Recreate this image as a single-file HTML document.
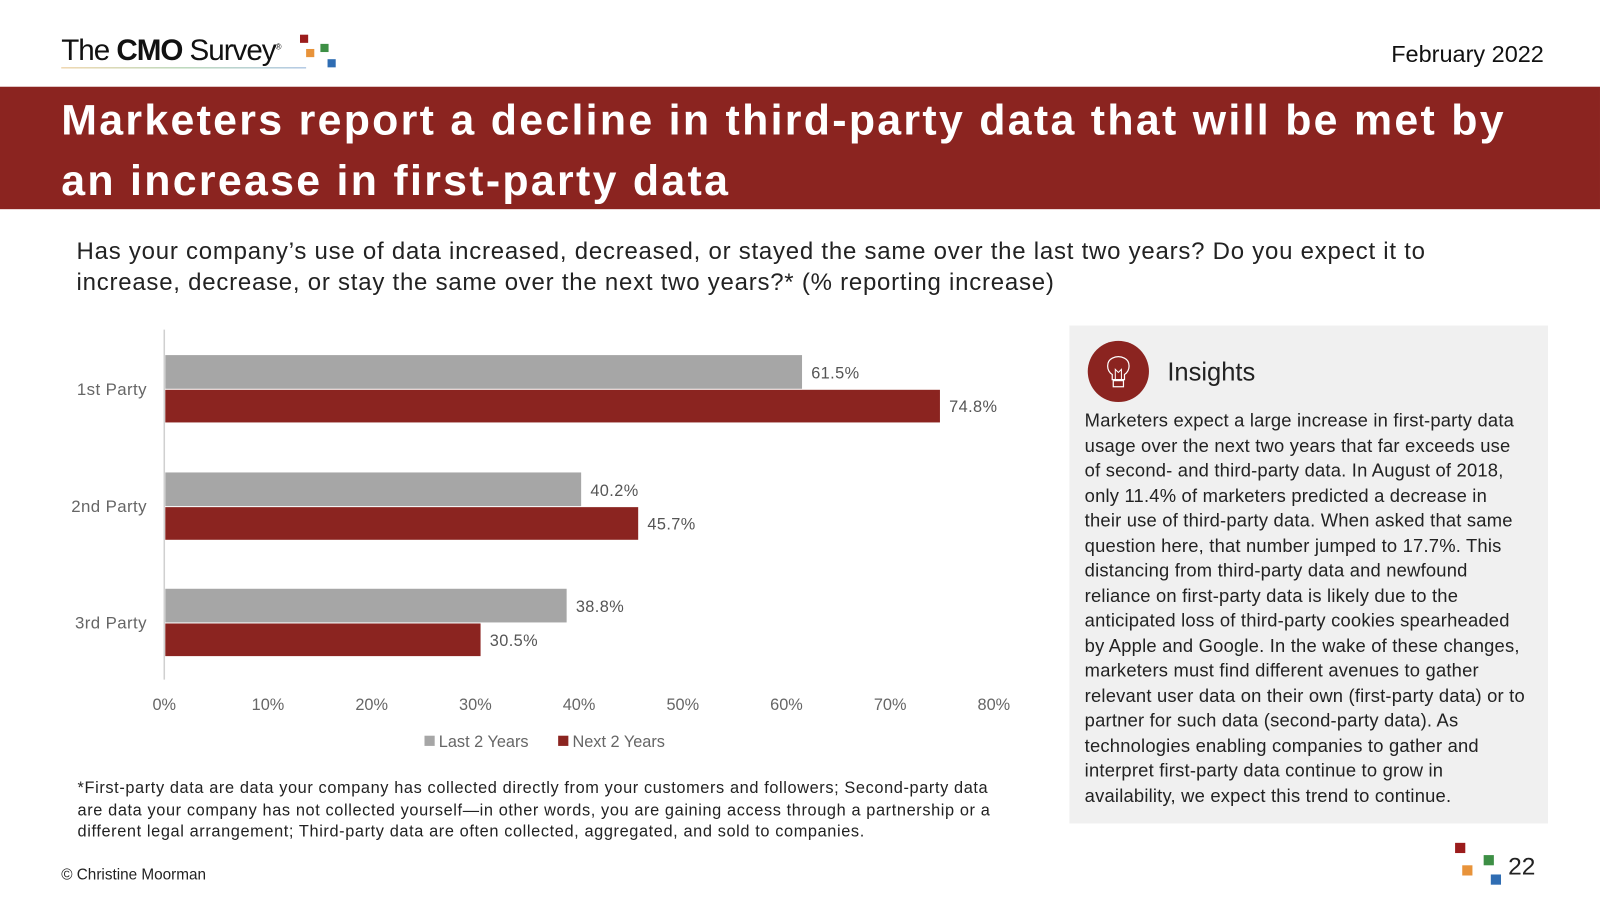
<!DOCTYPE html>
<html><head><meta charset="utf-8">
<style>
*{margin:0;padding:0;box-sizing:border-box}
body{width:1600px;height:900px;background:#fff;font-family:"Liberation Sans",Arial,sans-serif;overflow:hidden;color:#222}
#wrap{position:absolute;left:0;top:0;width:1568px;height:882px;transform:scale(1.0204);transform-origin:0 0}
.abs{position:absolute}
.nw{white-space:nowrap}
</style></head><body><div id="wrap">
<div class="abs" style="left:60px;top:34px;font-size:29px;letter-spacing:-1px;color:#111;white-space:nowrap">The <b>CMO</b> Survey<sup style="font-size:8px">®</sup></div>
<div class="abs" style="left:292px;top:34px;width:40px;height:36px">
<div class="abs" style="left:2px;top:0;width:8px;height:8px;background:#9b1c1c"></div>
<div class="abs" style="left:8px;top:14px;width:8px;height:8px;background:#e8933a"></div>
<div class="abs" style="left:22px;top:9px;width:8px;height:8px;background:#3d8f45"></div>
<div class="abs" style="left:29px;top:24px;width:8px;height:8px;background:#2f6db3"></div>
</div>
<div class="abs" style="left:60px;top:66px;width:240px;height:1px;background:linear-gradient(90deg,#e8c48a,#9bc59b,#8fb0d8)"></div>
<div class="abs" style="right:55px;top:40px;font-size:23px;color:#111">February 2022</div>
<div class="abs nw" style="left:0;top:85px;width:1568px;height:120px;background:#8b2420;color:#fff;font-size:42px;font-weight:bold;line-height:59px;padding:3px 0 0 60px;letter-spacing:2.25px;">Marketers report a decline in third-party data that will be met by<br>an increase in first-party data</div>
<div class="abs nw" style="left:75px;top:231px;font-size:23.5px;line-height:30px;color:#222;letter-spacing:0.75px">Has your company’s use of data increased, decreased, or stayed the same over the last two years? Do you expect it to<br>increase, decrease, or stay the same over the next two years?* (% reporting increase)</div>

<svg class="abs" style="left:0;top:0" width="1040" height="760" id="chart"></svg>

<div class="abs nw" style="left:76px;top:762px;font-size:16px;line-height:21.5px;color:#222;letter-spacing:0.6px">*First-party data are data your company has collected directly from your customers and followers; Second-party data<br>are data your company has not collected yourself—in other words, you are gaining access through a partnership or a<br>different legal arrangement; Third-party data are often collected, aggregated, and sold to companies.</div>
<div class="abs" style="left:60px;top:849px;font-size:15px;color:#222">© Christine Moorman</div>

<div class="abs" style="left:1048px;top:319px;width:469px;height:488px;background:#f0f0f0">
<div class="abs" style="left:18px;top:15px;width:60px;height:60px;border-radius:50%;background:#8b2420">
<svg width="60" height="60"><path d="M24 38 L24 33 C18 29 18 20 24 17 C28 15 32 15 36 17 C42 20 42 29 36 33 L36 38 Z" fill="none" stroke="#fff" stroke-width="1.2"/><path d="M27 38 L27 28 L30 31 L33 28 L33 38" fill="none" stroke="#fff" stroke-width="1"/><rect x="25" y="39" width="10" height="6" fill="none" stroke="#fff" stroke-width="1.2"/></svg>
</div>
<div class="abs" style="left:96px;top:32px;font-size:25px;color:#222">Insights</div>
<div class="abs nw" style="left:15px;top:81px;font-size:18px;line-height:24.5px;color:#222;letter-spacing:0.2px">Marketers expect a large increase in first-party data<br>usage over the next two years that far exceeds use<br>of second- and third-party data. In August of 2018,<br>only 11.4% of marketers predicted a decrease in<br>their use of third-party data. When asked that same<br>question here, that number jumped to 17.7%. This<br>distancing from third-party data and newfound<br>reliance on first-party data is likely due to the<br>anticipated loss of third-party cookies spearheaded<br>by Apple and Google. In the wake of these changes,<br>marketers must find different avenues to gather<br>relevant user data on their own (first-party data) or to<br>partner for such data (second-party data). As<br>technologies enabling companies to gather and<br>interpret first-party data continue to grow in<br>availability, we expect this trend to continue.</div>
</div>
<div class="abs" style="left:1424px;top:826px;width:50px;height:44px">
<div class="abs" style="left:2px;top:0;width:10px;height:10px;background:#9b1c1c"></div>
<div class="abs" style="left:9px;top:22px;width:10px;height:10px;background:#e8933a"></div>
<div class="abs" style="left:30px;top:12px;width:10px;height:10px;background:#3d8f45"></div>
<div class="abs" style="left:37px;top:31px;width:10px;height:10px;background:#2f6db3"></div>
</div>
<div class="abs" style="left:1478px;top:836px;font-size:24px;color:#222">22</div>
</div>
<script>
const categories=["1st Party","2nd Party","3rd Party"];
const last2=[61.5,40.2,38.8];
const next2=[74.8,45.7,30.5];
const ticks=[0,10,20,30,40,50,60,70,80];
const svg=document.getElementById('chart');
const NS='http://www.w3.org/2000/svg';
const x0=161,x1=974,xmax=80;
const xs=v=>x0+(x1-x0)*v/xmax;
const groupTop=[348,463,577];
function el(t,a,txt){const e=document.createElementNS(NS,t);for(const k in a)e.setAttribute(k,a[k]);if(txt!==undefined)e.textContent=txt;svg.appendChild(e);return e;}
const ax=el('line',{x1:x0,x2:x0,y1:323,y2:666,stroke:'#d0d0d0','stroke-width':1.5});


ticks.forEach(t=>{const e=el('text',{x:xs(t),y:696,'text-anchor':'middle','font-size':16,fill:'#666','font-family':'Liberation Sans'},t+'%');

});
categories.forEach((c,i)=>{const yt=groupTop[i];
const l=el('text',{x:144,y:yt+39,'text-anchor':'end','font-size':16.5,fill:'#666','font-family':'Liberation Sans','letter-spacing':0.4},c);


const b1=el('rect',{x:x0+1,y:yt,width:xs(last2[i])-x0-1,height:33,fill:'#a6a6a6'});


const b2=el('rect',{x:x0+1,y:yt+34,width:xs(next2[i])-x0-1,height:32,fill:'#8b2420'});


const v1=el('text',{x:xs(last2[i])+9,y:yt+23,'font-size':16,fill:'#555','font-family':'Liberation Sans','letter-spacing':0.4},last2[i].toFixed(1)+'%');


const v2=el('text',{x:xs(next2[i])+9,y:yt+56,'font-size':16,fill:'#555','font-family':'Liberation Sans','letter-spacing':0.4},next2[i].toFixed(1)+'%');


});
const lg1=el('rect',{x:416,y:721,width:10,height:10,fill:'#a6a6a6'});


const lt1=el('text',{x:430,y:732,'font-size':16,fill:'#666','font-family':'Liberation Sans'},'Last 2 Years');


const lg2=el('rect',{x:547,y:721,width:10,height:10,fill:'#8b2420'});


const lt2=el('text',{x:561,y:732,'font-size':16,fill:'#666','font-family':'Liberation Sans'},'Next 2 Years');


</script>
</body></html>
